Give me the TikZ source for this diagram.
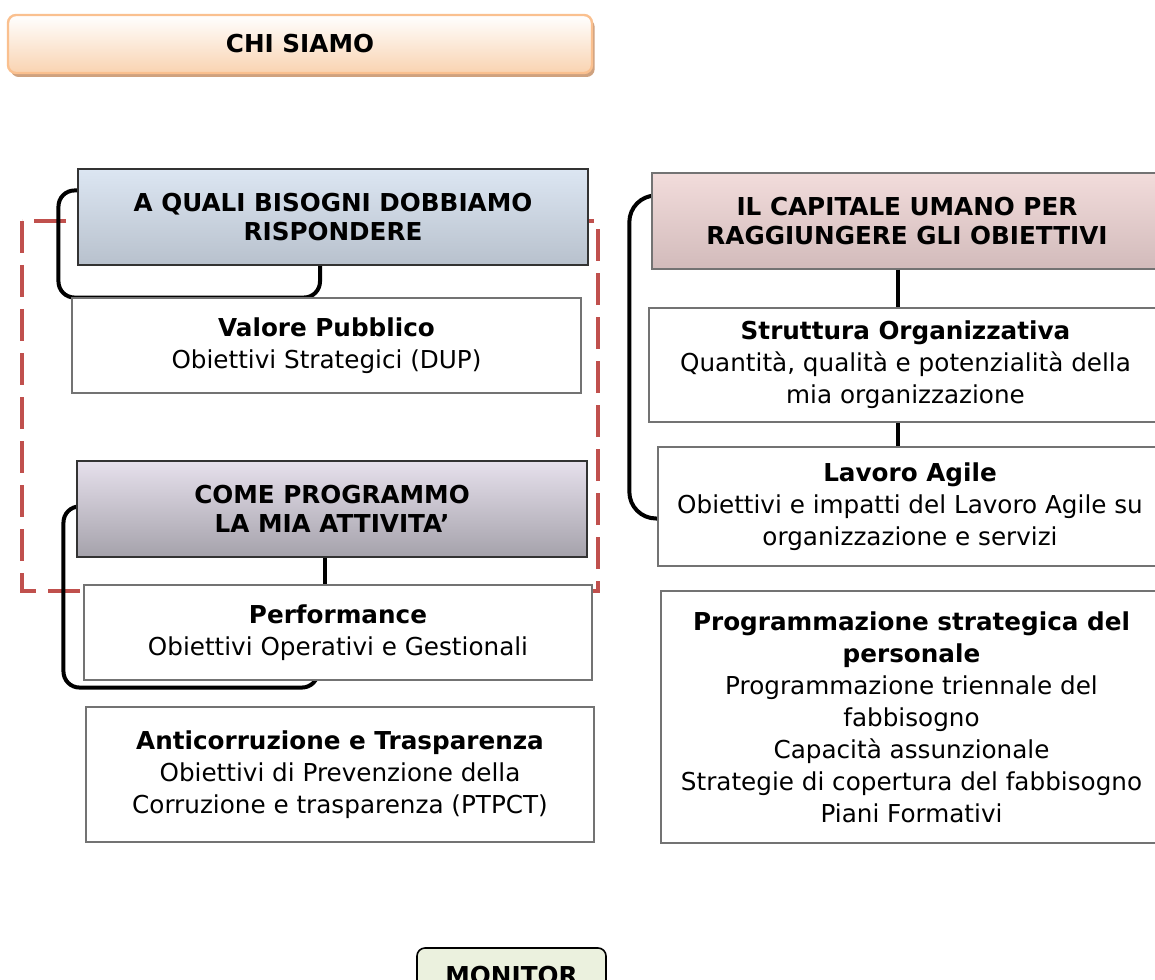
\documentclass[tikz,border=0pt]{standalone}
\usepackage{fontspec}
\setmainfont{DejaVu Sans}
\usepackage{xcolor}
\usepackage{tikz}
\usetikzlibrary{positioning,calc,shadows,backgrounds}

\definecolor{chiline}{HTML}{FAC08F}
\definecolor{chibot}{HTML}{F9D3B1}
\definecolor{chishadow}{HTML}{CFA27F}
\definecolor{bisognitop}{HTML}{DCE6F2}
\definecolor{bisognibot}{HTML}{B8C1CD}
\definecolor{programmotop}{HTML}{E6E0EC}
\definecolor{programmobot}{HTML}{A5A2AB}
\definecolor{capitaletop}{HTML}{F2DCDB}
\definecolor{capitalebot}{HTML}{D2BBBB}
\definecolor{monitorfill}{HTML}{EBF1DE}
\definecolor{dashred}{HTML}{C0504D}

\tikzset{
  header/.style={draw=black!80, line width=0.8pt, align=center, inner sep=0pt,
    font=\bfseries\fontsize{18.5}{21.75}\selectfont},
  textbox/.style={draw=black!55, line width=1pt, fill=white, align=center, inner sep=0pt,
    font=\fontsize{18.5}{24}\selectfont},
  bracket/.style={line width=3pt, line cap=round},
  link/.style={line width=2.8pt},
  dashbox/.style={draw=dashred, line width=2.5pt, dash pattern=on 24pt off 9pt},
}

\begin{document}
\begin{tikzpicture}[x=0.75pt, y=-0.75pt]
    \useasboundingbox (0,0) rectangle (1155,980);

    % Chi siamo
    \node[header, draw=chiline, line width=1.8pt, rounded corners=6pt,
          top color=white, bottom color=chibot,
          drop shadow={fill=chishadow, opacity=1, shadow xshift=2pt, shadow yshift=-3pt},
          minimum width=438pt, minimum height=43.5pt] (chi) at (300,44) {CHI SIAMO};

    % Colonna sinistra
    \node[header, top color=bisognitop, bottom color=bisognibot,
          minimum width=382.5pt, minimum height=72pt] (bisogni) at (333,217)
          {A QUALI BISOGNI DOBBIAMO\\RISPONDERE};
    \node[textbox, minimum width=381.75pt, minimum height=71.25pt] (valore) at (326.5,345.5)
          {\textbf{Valore Pubblico}\\Obiettivi Strategici (DUP)};
    \node[header, top color=programmotop, bottom color=programmobot,
          minimum width=382.5pt, minimum height=72pt] (programmo) at (332,509)
          {COME PROGRAMMO\\LA MIA ATTIVITA’};
    \node[textbox, minimum width=381pt, minimum height=71.25pt] (performance) at (338,632.5)
          {\textbf{Performance}\\Obiettivi Operativi e Gestionali};
    \node[textbox, minimum width=381pt, minimum height=101.25pt] (anticorruzione) at (340,774.5)
          {\textbf{Anticorruzione e Trasparenza}\\Obiettivi di Prevenzione della\\Corruzione e trasparenza (PTPCT)};

    % Colonna destra
    \node[header, draw=black!55, top color=capitaletop, bottom color=capitalebot,
          minimum width=382.5pt, minimum height=72pt] (capitale) at (907,221)
          {IL CAPITALE UMANO PER\\RAGGIUNGERE GLI OBIETTIVI};
    \node[textbox, minimum width=384.75pt, minimum height=85.5pt] (struttura) at (905.5,365)
          {\textbf{Struttura Organizzativa}\\Quantità, qualità e potenzialità della\\mia organizzazione};
    \node[textbox, minimum width=378pt, minimum height=89.25pt] (lavoro) at (910,506.5)
          {\textbf{Lavoro Agile}\\Obiettivi e impatti del Lavoro Agile su\\organizzazione e servizi};
    \node[textbox, minimum width=375.75pt, minimum height=189pt] (personale) at (911.5,717)
          {\textbf{Programmazione strategica del}\\\textbf{personale}\\Programmazione triennale del\\fabbisogno\\Capacità assunzionale\\Strategie di copertura del fabbisogno\\Piani Formativi};

    % Monitoraggio
    \node[header, draw=black, line width=1.2pt, rounded corners=6pt, fill=monitorfill,
          minimum width=141.75pt, minimum height=42pt] (monitor) at (511.5,976) {MONITOR};

    % Cornici e collegamenti
    \begin{scope}[on background layer]
        \draw[dashbox] (22,221) rectangle (598,591);
        \draw[bracket, rounded corners=12pt] ($(bisogni.north west)+(12,22)$)
            -| ($(bisogni.south west)+(-19,32)$) -| ($(bisogni.south)+(-13,-8)$);
        \draw[bracket, rounded corners=12pt] ($(programmo.north west)+(12,46)$)
            -| ($(programmo.south west)+(-13,130)$) -| ($(performance.south)+(-20,-8)$);
        \draw[bracket, rounded corners=20pt] ($(capitale.north west)+(12,23)$)
            -| ($(lavoro.west)+(-28,12)$) -- ($(lavoro.west)+(10,12)$);
    \end{scope}
    \draw[link] ([xshift=-5pt]programmo.south) -- ([xshift=-5pt]programmo.south |- performance.north);
    \draw[link] ([xshift=-6.5pt]capitale.south) -- ([xshift=-6.5pt]capitale.south |- struttura.north);
    \draw[link] ([xshift=-5.5pt]struttura.south) -- ([xshift=-5.5pt]struttura.south |- lavoro.north);
\end{tikzpicture}
\end{document}
